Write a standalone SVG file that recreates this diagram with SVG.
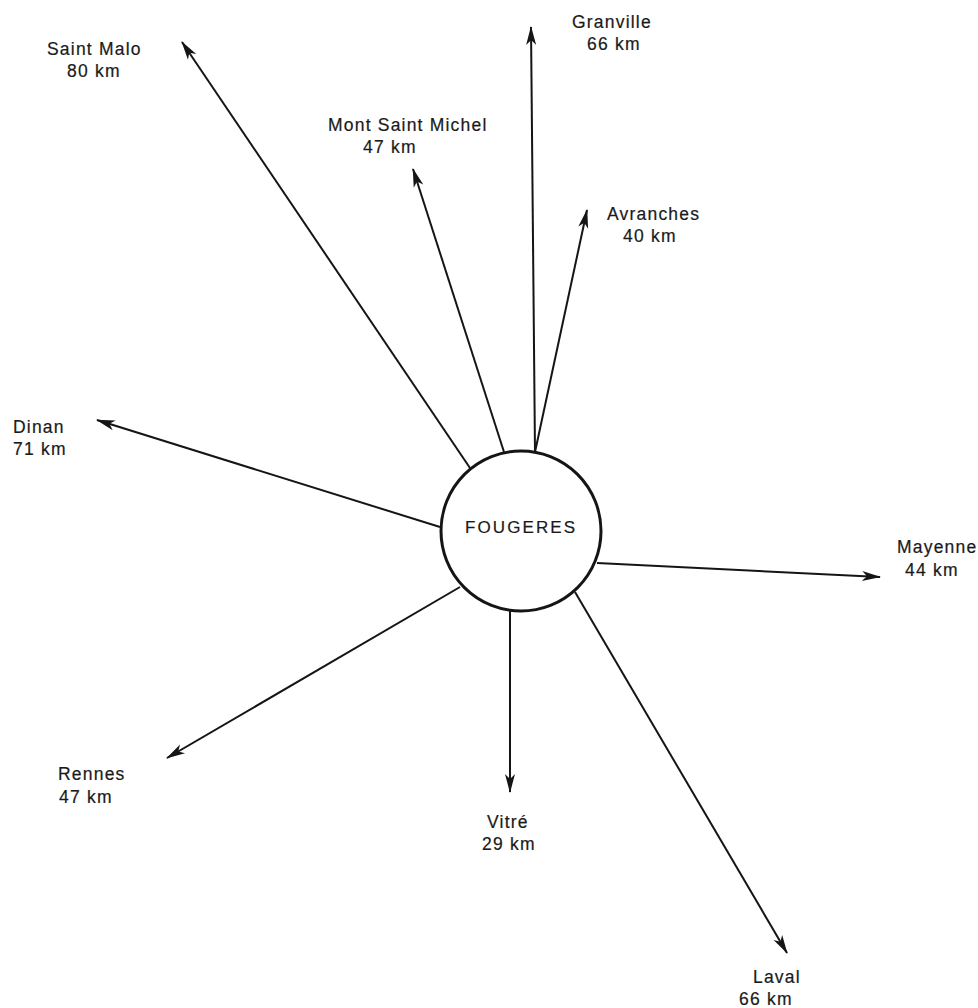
<svg xmlns="http://www.w3.org/2000/svg" width="978" height="1008" viewBox="0 0 978 1008">
<style>
.lbl{font-family:"Liberation Sans",Arial,sans-serif;font-size:17.5px;letter-spacing:1.2px;fill:#1a1a1a;stroke:#1a1a1a;stroke-width:0.2}
.ctr{font-family:"Liberation Sans",Arial,sans-serif;font-size:17px;letter-spacing:2.1px;fill:#1a1a1a;stroke:#1a1a1a;stroke-width:0.2}
.con{stroke:#151515;stroke-width:2;fill:none;marker-end:url(#arr)}
</style>
<defs>
<marker id="arr" markerUnits="userSpaceOnUse" markerWidth="22" markerHeight="14" viewBox="-20 -7 22 14" refX="0" refY="0" orient="auto">
<path d="M1,0 L-18,-5 L-13,0 L-18,5 Z" fill="#151515"/>
</marker>
</defs>
<rect width="978" height="1008" fill="#fff"/>
<g id="connectors">
<line class="con" x1="470" y1="468" x2="182" y2="42"/>
<line class="con" x1="504" y1="452" x2="413" y2="169"/>
<line class="con" x1="535" y1="452" x2="531" y2="27"/>
<line class="con" x1="535" y1="452" x2="587" y2="210"/>
<line class="con" x1="440" y1="527" x2="97" y2="420"/>
<line class="con" x1="597" y1="563" x2="880" y2="577"/>
<line class="con" x1="575" y1="592" x2="787" y2="953"/>
<line class="con" x1="510" y1="610" x2="510" y2="792"/>
<line class="con" x1="460" y1="587" x2="167" y2="758"/>
</g>
<g id="fougeres">
<circle cx="521" cy="531" r="80" fill="#fff" stroke="#151515" stroke-width="3"/>
<text class="ctr" x="465" y="533">FOUGERES</text>
</g>
<g id="saint-malo"><text class="lbl" x="47" y="55">Saint Malo</text><text class="lbl" x="67" y="77">80 km</text></g>
<g id="granville"><text class="lbl" x="572" y="28">Granville</text><text class="lbl" x="587" y="50">66 km</text></g>
<g id="mont-saint-michel"><text class="lbl" x="328" y="131">Mont Saint Michel</text><text class="lbl" x="363" y="153">47 km</text></g>
<g id="avranches"><text class="lbl" x="607" y="220">Avranches</text><text class="lbl" x="623" y="242">40 km</text></g>
<g id="dinan"><text class="lbl" x="13" y="433">Dinan</text><text class="lbl" x="13" y="455">71 km</text></g>
<g id="mayenne"><text class="lbl" x="897" y="553">Mayenne</text><text class="lbl" x="905" y="576">44 km</text></g>
<g id="rennes"><text class="lbl" x="58" y="780">Rennes</text><text class="lbl" x="59" y="803">47 km</text></g>
<g id="vitre"><text class="lbl" x="487" y="828">Vitré</text><text class="lbl" x="482" y="850">29 km</text></g>
<g id="laval"><text class="lbl" x="753" y="983">Laval</text><text class="lbl" x="739" y="1005">66 km</text></g>
</svg>
